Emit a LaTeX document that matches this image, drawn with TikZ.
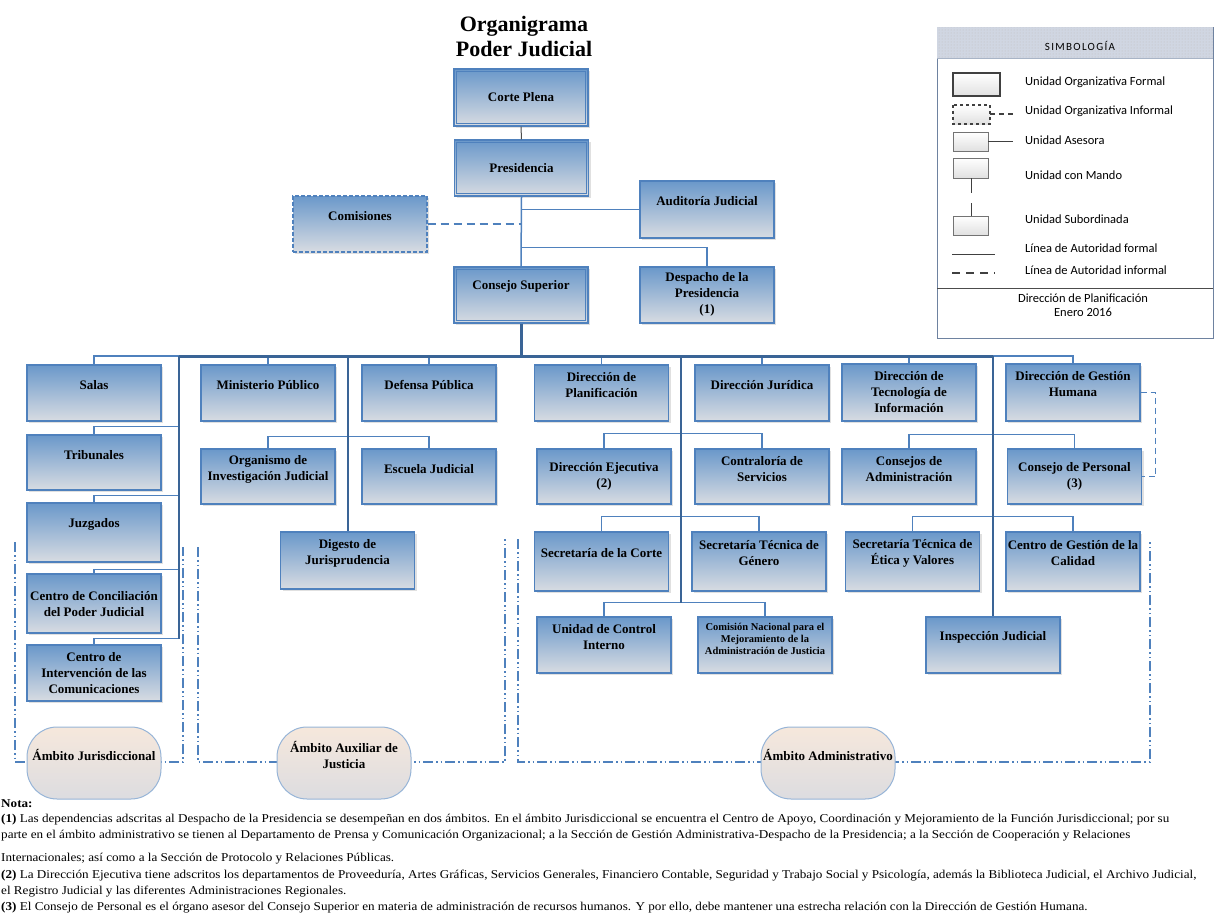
\documentclass[tikz,border=0pt]{standalone}
\usepackage{fontspec}
\setmainfont{Liberation Serif}
\newfontfamily\legfont{Carlito}
\newfontfamily\legfontsp[LetterSpace=12]{Carlito}
\newfontfamily\notefont[FakeStretch=1.095]{Liberation Serif}
\usetikzlibrary{shadows,calc,patterns}
\definecolor{bdr}{RGB}{79,129,189}
\definecolor{btop}{RGB}{106,152,202}
\definecolor{bbot}{RGB}{216,220,226}
\definecolor{busc}{RGB}{58,100,150}
\definecolor{otop}{RGB}{246,232,220}
\definecolor{obot}{RGB}{220,220,224}
\definecolor{obdr}{RGB}{150,180,215}
\definecolor{leghead}{RGB}{208,214,226}
\definecolor{legbdr}{RGB}{110,130,160}
\newcommand\boxfont{\fontsize{13}{16}\selectfont\bfseries}
\newcommand\bt[3]{\parbox[c][#1pt][t]{134pt}{\parbox[c][#2pt][c]{134pt}{\centering #3}}}
\begin{document}
\begin{tikzpicture}[x=1pt,y=1pt,
  ubox/.style={draw=bdr, line width=1.2pt, top color=btop, bottom color=bbot, inner sep=0pt, font=\boxfont,
    drop shadow={shadow xshift=2pt,shadow yshift=-2pt,fill=black!30,opacity=0.4}},
  dbl/.style={draw=bdr, line width=0.9pt},
  conn/.style={draw=bdr, line width=1.5pt},
  trunk/.style={draw=busc, line width=2pt},
  busl/.style={draw=busc, line width=3pt},
  informal/.style={draw=bdr, line width=1.5pt, dash pattern=on 8pt off 5pt},
  ambito/.style={draw=bdr, line width=1.5pt, dash pattern=on 10pt off 3pt on 1.5pt off 3pt on 1.5pt off 3pt},
  oval/.style={draw=obdr, line width=1pt, top color=otop, bottom color=obot, rounded corners=30pt, inner sep=0pt, font=\boxfont},
  legtxt/.style={font=\legfont\fontsize{12.5}{14}\selectfont, anchor=west, inner sep=0pt},
  legsym/.style={draw=black!55, line width=0.8pt, top color=white, bottom color=black!12},
  notetxt/.style={font=\notefont\fontsize{12}{14}\selectfont, anchor=base west, inner sep=0pt},
]
\useasboundingbox (0,0) rectangle (1214,-915);

% Title
\node[font=\fontsize{22}{25}\selectfont\bfseries, align=center] (title) at (524,-37) {Organigrama\\Poder Judicial};

% Ambito regions (drawn first)
\draw[ambito] (15,-542) -- (15,-762) -- (183,-762) -- (183,-547);
\draw[ambito] (198,-547) -- (198,-762) -- (505,-762) -- (505,-539);
\draw[ambito] (518,-539) -- (518,-762) -- (1150,-762) -- (1150,-539);

% Top boxes
\node[ubox] (cp) at (521,-97.5) {\bt{57}{57}{Corte Plena}};
\node[ubox] (pres) at (521.5,-168) {\bt{56}{56}{Presidencia}};
\node[ubox, dash pattern=on 4pt off 2pt] (com) at (360,-224) {\bt{56}{40}{Comisiones}};
\node[ubox] (aud) at (707,-209.5) {\bt{57}{40}{Auditoría Judicial}};
\node[ubox] (cs) at (521,-295) {\bt{56}{39}{Consejo Superior}};
\node[ubox] (desp) at (707,-295) {\bt{56}{54}{Despacho de la\\Presidencia\\(1)}};
\foreach \n in {cp,pres,cs}{
  \draw[dbl] ([shift={(3,-3)}]\n.north west) rectangle ([shift={(-3,3)}]\n.south east);
}

% Column 1 (jurisdiccional)
\node[ubox] (salas) at (94,-393) {\bt{56}{40}{Salas}};
\node[ubox] (trib) at (94,-462.5) {\bt{55}{40}{Tribunales}};
\node[ubox] (juz) at (94,-532.5) {\bt{59}{42}{Juzgados}};
\node[ubox] (concil) at (94,-603.5) {\bt{59}{60}{Centro de Conciliación\\del Poder Judicial}};
\node[ubox] (interv) at (94,-673) {\bt{56}{56}{Centro de\\Intervención de las\\Comunicaciones}};

% Auxiliar
\node[ubox] (mp) at (268,-393) {\bt{56}{40}{Ministerio Público}};
\node[ubox] (dp) at (429,-393) {\bt{56}{40}{Defensa Pública}};
\node[ubox] (oij) at (268,-476.5) {\bt{55}{40}{Organismo de\\Investigación Judicial}};
\node[ubox] (esc) at (429,-476.5) {\bt{55}{40}{Escuela Judicial}};
\node[ubox] (dig) at (347.5,-560.5) {\bt{57}{42}{Digesto de\\Jurisprudencia}};

% Administrativo
\node[ubox] (dplan) at (601.5,-393) {\bt{56}{40}{Dirección de\\Planificación}};
\node[ubox] (djur) at (762,-393) {\bt{56}{40}{Dirección Jurídica}};
\node[ubox] (dtec) at (909,-392.5) {\bt{57}{56}{Dirección de\\Tecnología de\\Información}};
\node[ubox] (dgh) at (1073,-392.5) {\bt{57}{40}{Dirección de Gestión\\Humana}};
\node[ubox] (dej) at (604,-476.5) {\bt{55}{55}{Dirección Ejecutiva\\(2)}};
\node[ubox] (contr) at (762,-476.5) {\bt{55}{40}{Contraloría de\\Servicios}};
\node[ubox] (cadm) at (909,-476.5) {\bt{55}{40}{Consejos de\\Administración}};
\node[ubox] (cper) at (1074.5,-476.5) {\bt{55}{55}{Consejo de Personal\\(3)}};
\node[ubox] (secc) at (601.5,-561.5) {\bt{59}{42}{Secretaría de la Corte}};
\node[ubox] (gen) at (759,-561.5) {\bt{59}{43}{Secretaría Técnica de\\Género}};
\node[ubox] (etica) at (912.5,-561.5) {\bt{59}{43}{Secretaría Técnica de\\Ética y Valores}};
\node[ubox] (cal) at (1073,-561.5) {\bt{59}{42}{Centro de Gestión de la\\Calidad}};
\node[ubox] (uci) at (604,-645) {\bt{56}{40}{Unidad de Control\\Interno}};
\node[ubox] (cnac) at (765,-645) {\bt{56}{44}{\fontsize{10.5}{12}\selectfont Comisión Nacional para el\\Mejoramiento de la\\Administración de Justicia}};
\node[ubox] (insp) at (993,-645) {\bt{56}{40}{Inspección Judicial}};

% Coordinates of the bus and trunks
\coordinate (bus) at (521,-356);
\coordinate (tL) at (179,-356);
\coordinate (tLb) at (179,-639);
\coordinate (tA) at (681,-356);
\coordinate (tAb) at (681,-603);

% Top connectors
\draw[conn, draw=black!70, line width=1pt] (cp.south) -- (pres.north);
\draw[conn] (pres.south) -- (cs.north);
\draw[conn] (aud.west) -- (aud.west -| pres.south);
\draw[informal] (com.east) -- (com.east -| pres.south);
\draw[conn] (desp.north) -- ++(0,19) -| (pres.south);

% Bus
\draw[conn] (salas.north) -- (salas.north |- bus) -- (tL);
\draw[conn] (insp.north |- bus) -- (dgh.north |- bus) -- (dgh.north);
\foreach \n in {mp,dp,dplan,djur,dtec}{
  \draw[conn] (\n.north) -- (\n.north |- bus);
}
% column 1 branches
\draw[conn] (trib.north) -- ++(0,8) -| (tL);
\draw[conn] (juz.north) -- ++(0,7) -| (tL);
\draw[conn] (concil.north) -- ++(0,4) -| (tL);
\draw[conn] (interv.north) -- ++(0,6) -| (tL);
% auxiliar branches
\draw[conn] (oij.north) -- ++(0,12) -| (esc.north);
% administrativo branches
\draw[conn] (dej.north) -- ++(0,15) -| (contr.north);
\draw[conn] (secc.north) -- ++(0,15) -| (gen.north);
\draw[conn] (uci.north) -- ++(0,14) -| (cnac.north);
\draw[conn] (cadm.north) -- ++(0,14) -| (cper.north);
\draw[conn] (etica.north) -- ++(0,15) -| (cal.north);
\draw[informal, line width=1.2pt, dash pattern=on 6pt off 4pt] (dgh.east) -- ++(15,0) |- (cper.east);
% trunks
\draw[trunk] (tL) -- (tLb);
\draw[trunk] (dig.north |- bus) -- (dig.north);
\draw[trunk] (tA) -- (tAb);
\draw[trunk] (insp.north |- bus) -- (insp.north);
\draw[busl] (cs.south) -- (cs.south |- bus);
\draw[busl] (tL) -- (insp.north |- bus);

% Ambito ovals
\node[oval] (amj) at (94,-763) {\bt{72}{56}{Ámbito Jurisdiccional}};
\node[oval] (amx) at (344,-763) {\bt{72}{56}{Ámbito Auxiliar de\\Justicia}};
\node[oval] (ama) at (828,-763) {\bt{72}{56}{Ámbito Administrativo}};

% Legend
\draw[draw=legbdr, line width=0.8pt, fill=white] (937,-27) rectangle (1213,-338);
\fill[leghead] (937.4,-27.4) rectangle (1212.6,-58);
\fill[pattern=dots, pattern color=black!25] (937.4,-27.4) rectangle (1212.6,-58);
\draw[draw=legbdr!60, line width=0.6pt] (937,-58) -- (1213,-58);
\node[font=\legfontsp\fontsize{11}{12}\selectfont] (simb) at (1080,-46) {SIMBOLOGÍA};
\draw[legsym, draw=black!75, line width=1.5pt] (953,-73) rectangle (1000,-96);
\draw[legsym, dashed, draw=black!75, line width=1.2pt] (953,-105) rectangle (990,-124);
\draw[black!75, line width=1.5pt, dash pattern=on 5pt off 4pt] (990,-114) -- (1015,-114);
\draw[legsym] (953,-132) rectangle (988,-151);
\draw[black!75, line width=1pt] (988,-141) -- (1013,-141);
\draw[legsym] (953,-158) rectangle (988,-178);
\draw[black!75, line width=1pt] (971,-178) -- (971,-193);
\draw[black!75, line width=1pt] (971,-203) -- (971,-216);
\draw[legsym] (953,-216) rectangle (988,-235);
\draw[black!75, line width=1pt] (952,-254) -- (995,-254);
\draw[black!75, line width=1.2pt, dash pattern=on 8pt off 6pt] (952,-273) -- (995,-273);
\node[legtxt] (l1) at (1025,-82) {Unidad Organizativa Formal};
\node[legtxt] (l2) at (1025,-111) {Unidad Organizativa Informal};
\node[legtxt] (l3) at (1025,-140) {Unidad Asesora};
\node[legtxt] (l4) at (1025,-175) {Unidad con Mando};
\node[legtxt] (l5) at (1025,-219) {Unidad Subordinada};
\node[legtxt] (l6) at (1025,-248) {Línea de Autoridad formal};
\node[legtxt] (l7) at (1025,-270) {Línea de Autoridad informal};
\draw[black!70, line width=1pt] (937,-288) -- (1213,-288);
\node[font=\legfont\fontsize{12.5}{14.5}\selectfont, align=center] (firma) at (1083,-305) {Dirección de Planificación\\Enero 2016};

% Notes
\node[notetxt] (n0) at (1,-807) {\textbf{Nota:}};
\node[notetxt] (n1) at (1,-822) {\textbf{(1)} Las dependencias adscritas al Despacho de la Presidencia se desempeñan en dos ámbitos. En el ámbito Jurisdiccional se encuentra el Centro de Apoyo, Coordinación y Mejoramiento de la Función Jurisdiccional; por su};
\node[notetxt] (n2) at (1,-838) {parte en el ámbito administrativo se tienen al Departamento de Prensa y Comunicación Organizacional; a la Sección de Gestión Administrativa-Despacho de la Presidencia; a la Sección de Cooperación y Relaciones};
\node[notetxt] (n3) at (1,-861) {Internacionales; así como a la Sección de Protocolo y Relaciones Públicas.};
\node[notetxt] (n4) at (1,-878) {\textbf{(2)} La Dirección Ejecutiva tiene adscritos los departamentos de Proveeduría, Artes Gráficas, Servicios Generales, Financiero Contable, Seguridad y Trabajo Social y Psicología, además la Biblioteca Judicial, el Archivo Judicial,};
\node[notetxt] (n5) at (1,-894) {el Registro Judicial y las diferentes Administraciones Regionales.};
\node[notetxt] (n6) at (1,-910) {\textbf{(3)} El Consejo de Personal es el órgano asesor del Consejo Superior en materia de administración de recursos humanos. Y por ello, debe mantener una estrecha relación con la Dirección de Gestión Humana.};
\end{tikzpicture}
\end{document}
